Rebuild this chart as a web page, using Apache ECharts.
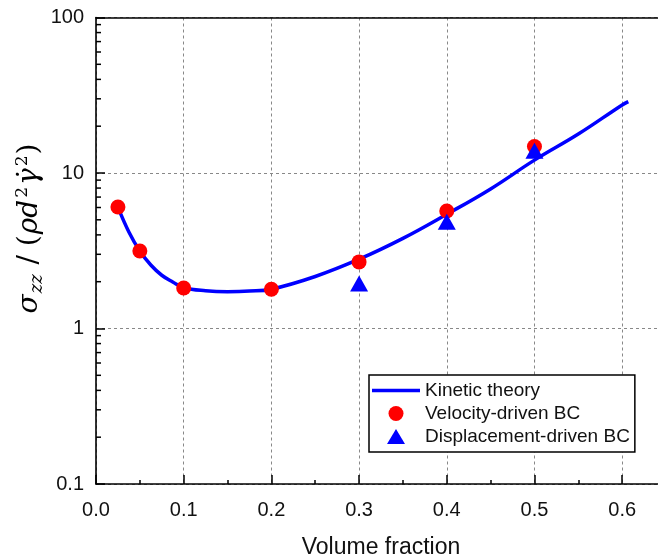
<!DOCTYPE html>
<html>
<head>
<meta charset="utf-8">
<script src="https://cdn.jsdelivr.net/npm/echarts@6/dist/echarts.min.js"></script>
<style>
  html, body { margin: 0; padding: 0; background: #ffffff; }
  #chart { width: 658px; height: 560px; }
</style>
</head>
<body>
<div id="chart"></div>
<script>
// Kinetic-theory prediction of the normal stress vs. volume fraction
const kineticX = [0.025, 0.0375, 0.05, 0.0625, 0.075, 0.0875, 0.1, 0.125, 0.15, 0.175, 0.2, 0.25, 0.3, 0.35, 0.4, 0.45, 0.5, 0.55, 0.6, 0.607];
const kineticY = [6.04, 4.18, 3.15, 2.56, 2.20, 1.99, 1.83, 1.75, 1.726, 1.74, 1.79, 2.16, 2.79, 3.8, 5.43, 7.9, 12.1, 17.8, 27.4, 28.8];

// Simulation results, velocity-driven boundary condition
const velocityX = [0.025, 0.05, 0.1, 0.2, 0.3, 0.4, 0.5];
const velocityY = [6.04, 3.15, 1.82, 1.79, 2.68, 5.70, 14.8];

// Simulation results, displacement-driven boundary condition
const displacementX = [0.3, 0.4, 0.5];
const displacementY = [1.95, 4.86, 13.9];

// Log-axis minor tick values (2..9 in each decade)
const yMinorTicks = [0.2, 0.3, 0.4, 0.5, 0.6, 0.7, 0.8, 0.9, 2, 3, 4, 5, 6, 7, 8, 9, 20, 30, 40, 50, 60, 70, 80, 90];

const seriesNames = ['Kinetic theory', 'Velocity-driven BC', 'Displacement-driven BC'];
const xAxisTitle = 'Volume fraction';

const sansFont = '"Liberation Sans", Arial, sans-serif';
const serifFont = '"DejaVu Serif", "Liberation Serif", serif';

const pairs = (xs, ys) => xs.map((x, i) => [x, ys[i]]);

const gridLine = { show: true, lineStyle: { color: '#888888', width: 1, type: [3, 3] } };

const chart = echarts.init(document.getElementById('chart'), null, { renderer: 'canvas' });

chart.setOption({
  animation: false,
  backgroundColor: '#ffffff',
  // plot box runs slightly past the right edge of the canvas
  grid: { left: 96, top: 17.5, width: 570, bottom: 76, containLabel: false, outerBoundsMode: 'none' },
  xAxis: [
    {
      type: 'value',
      min: 0, max: 0.65, interval: 0.1,
      name: xAxisTitle,
      nameLocation: 'middle',
      nameGap: 52,
      nameTextStyle: { fontFamily: sansFont, fontSize: 23, color: '#111' },
      axisLine: { show: true, onZero: false, lineStyle: { color: '#000', width: 1.6 } },
      axisTick: { show: true, inside: true, length: 9, lineStyle: { color: '#000', width: 1.5 } },
      minorTick: { show: true, splitNumber: 2, length: 4, lineStyle: { color: '#000', width: 1.5 } },
      axisLabel: {
        margin: 16, fontFamily: sansFont, fontSize: 20, color: '#111',
        showMaxLabel: false,
        formatter: v => v.toFixed(1)
      },
      splitLine: gridLine
    },
    {
      // top frame line
      type: 'value', position: 'top',
      min: 0, max: 0.65,
      axisLine: { show: true, lineStyle: { color: '#000', width: 1.6 } },
      axisTick: { show: false }, axisLabel: { show: false }, splitLine: { show: false }
    }
  ],
  yAxis: {
    type: 'log', logBase: 10,
    min: 0.1, max: 100,
    axisLine: { show: true, onZero: false, lineStyle: { color: '#000', width: 1.6 } },
    axisTick: { show: true, inside: true, length: 9, lineStyle: { color: '#000', width: 1.5 } },
    axisLabel: {
      margin: 12, fontFamily: sansFont, fontSize: 20, color: '#111',
      formatter: v => String(+Number(v).toPrecision(3))
    },
    splitLine: gridLine
  },
  legend: {
    orient: 'vertical',
    left: 369, top: 375,
    itemWidth: 48, itemHeight: 15, itemGap: 4,
    padding: [6, 5, 6, 3],
    borderColor: '#000', borderWidth: 1.5,
    backgroundColor: '#fff',
    textStyle: { fontFamily: sansFont, fontSize: 19, color: '#111' },
    data: [
      { name: seriesNames[0], icon: 'path://M0,0L0,0M48,15L48,15M0,5.8L48,5.8L48,9.2L0,9.2Z' },
      { name: seriesNames[1], icon: 'circle' },
      { name: seriesNames[2], icon: 'path://M0,15L0,15M48,15L48,15M15,15L24,0L33,15Z' }
    ]
  },
  graphic: [{
    type: 'text',
    x: 30, y: 229,
    rotation: Math.PI / 2,
    style: {
      text: '{m|σ}{sub|zz}{r| / (}{m|ρd}{sup|2}{m|γ̇}{sup|2}{r|)}',
      align: 'center', verticalAlign: 'middle',
      fill: '#000',
      rich: {
        m: { fontFamily: serifFont, fontStyle: 'italic', fontSize: 28, lineHeight: 46, verticalAlign: 'middle', padding: [0, 1, 0, 1] },
        r: { fontFamily: serifFont, fontSize: 28, lineHeight: 46, verticalAlign: 'middle', padding: [0, 0, 0, 0] },
        sub: { fontFamily: serifFont, fontStyle: 'italic', fontSize: 18, verticalAlign: 'middle', padding: [14, 1, 0, 0] },
        sup: { fontFamily: serifFont, fontSize: 17, verticalAlign: 'middle', padding: [0, 1, 15, 1] }
      }
    }
  }],
  series: [
    {
      name: seriesNames[0],
      type: 'line',
      data: pairs(kineticX, kineticY),
      smooth: 0.4,
      symbol: 'none',
      lineStyle: { color: '#0000ff', width: 3.5 },
      itemStyle: { color: '#0000ff' },
      z: 3
    },
    {
      name: seriesNames[1],
      type: 'scatter',
      data: pairs(velocityX, velocityY),
      symbol: 'circle',
      symbolSize: 15,
      itemStyle: { color: '#ff0000', opacity: 1 },
      z: 4
    },
    {
      name: seriesNames[2],
      type: 'scatter',
      data: pairs(displacementX, displacementY),
      symbol: 'triangle',
      symbolSize: [18, 16],
      itemStyle: { color: '#0000ff', opacity: 1 },
      z: 5
    },
    {
      // minor ticks of the logarithmic axis
      type: 'custom',
      silent: true,
      clip: false,
      data: yMinorTicks.map(v => [0, v]),
      renderItem: (params, api) => {
        const p = api.coord([api.value(0), api.value(1)]);
        return {
          type: 'line',
          shape: { x1: p[0], y1: p[1], x2: p[0] + 5, y2: p[1] },
          style: { stroke: '#000', lineWidth: 1.5 }
        };
      },
      z: 6
    }
  ]
});
</script>
</body>
</html>
